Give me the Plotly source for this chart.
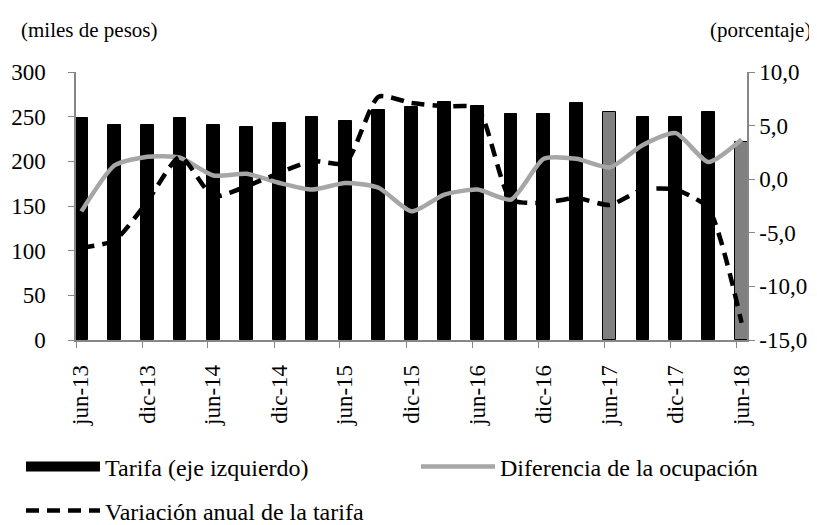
import plotly.graph_objects as go
import pandas as pd

# quarterly data, jun-13 .. jun-18
quarters = ["2013-06", "2013-09", "2013-12", "2014-03", "2014-06", "2014-09",
            "2014-12", "2015-03", "2015-06", "2015-09", "2015-12", "2016-03",
            "2016-06", "2016-09", "2016-12", "2017-03", "2017-06", "2017-09",
            "2017-12", "2018-03", "2018-06"]
tarifa = [248, 241, 241, 248, 241, 238, 243, 250, 245, 257, 261, 266,
          262, 253, 253, 265, 255, 250, 250, 255, 222]
ocupacion = [-3.0, 1.3, 2.1, 2.0, 0.35, 0.5, -0.35, -0.97, -0.35, -0.8, -3.0,
             -1.43, -0.97, -1.9, 1.9, 1.9, 1.1, 3.2, 4.3, 1.6, 3.7]
variacion = [-6.4, -5.7, -2.05, 2.1, -1.6, -0.65, 0.6, 1.7, 1.5, 7.7, 7.1,
             6.8, 6.6, -1.9, -2.2, -1.75, -2.4, -0.97, -0.97, -2.7, -13.4]
highlight = ["2017-06", "2018-06"]  # bars drawn in gray

x_tick_vals = ["2013-06-01", "2013-12-01", "2014-06-01", "2014-12-01", "2015-06-01",
               "2015-12-01", "2016-06-01", "2016-12-01", "2017-06-01", "2017-12-01",
               "2018-06-01"]
x_tick_text = ["jun-13", "dic-13", "jun-14", "dic-14", "jun-15", "dic-15",
               "jun-16", "dic-16", "jun-17", "dic-17", "jun-18"]
y1_ticks = [0, 50, 100, 150, 200, 250, 300]
y2_ticks = [-15, -10, -5, 0, 5, 10]
y2_text = ["-15,0", "-10,0", "-5,0", "0,0", "5,0", "10,0"]

FONT = "Liberation Serif, DejaVu Serif, serif"
AXIS_GRAY = "#868686"

# center each quarter-end month in its slot on the date axis
x_dates = pd.to_datetime(quarters) + pd.Timedelta(days=15)
bar_colors = ["#808080" if q in highlight else "black" for q in quarters]

fig = go.Figure()

fig.add_trace(go.Bar(
    x=x_dates, y=tarifa,
    marker=dict(color=bar_colors, line=dict(color="black", width=1)),
    width=35 * 86400000,
    showlegend=False,
))

# legend stand-in for the bars (wide black block)
fig.add_trace(go.Scatter(
    x=[None], y=[None], mode="lines",
    line=dict(color="black", width=14),
    name="Tarifa (eje izquierdo)", legend="legend",
))

fig.add_trace(go.Scatter(
    x=x_dates, y=ocupacion, yaxis="y2", mode="lines",
    line=dict(color="#a6a6a6", width=4.5, shape="spline", smoothing=0.6),
    name="Diferencia de la ocupación", legend="legend3",
))

fig.add_trace(go.Scatter(
    x=x_dates, y=variacion, yaxis="y2", mode="lines",
    line=dict(color="black", width=4.5, dash="13px,8px", shape="spline", smoothing=0.6),
    name="Variación anual de la tarifa", legend="legend2",
))

legend_common = dict(
    orientation="h", xref="container", yref="container",
    xanchor="left", yanchor="middle", itemwidth=74,
    font=dict(family=FONT, size=24), bgcolor="rgba(0,0,0,0)",
)

fig.update_layout(
    width=817, height=525,
    margin=dict(l=68, r=78, t=64, b=193, autoexpand=False),
    plot_bgcolor="white", paper_bgcolor="white",
    font=dict(family=FONT, size=23, color="black"),
    bargap=0,
    xaxis=dict(
        type="date",
        range=["2013-06-01", "2018-07-01"],
        tickvals=x_tick_vals, ticktext=x_tick_text,
        tickangle=-90, ticklabelshift=5, ticklabelstandoff=8,
        ticks="outside", ticklen=6, tickcolor=AXIS_GRAY,
        showline=True, linecolor=AXIS_GRAY, linewidth=1.5,
        showgrid=False, zeroline=False, automargin=False,
    ),
    yaxis=dict(
        range=[0, 300], tickvals=y1_ticks, ticklabelstandoff=18,
        ticks="outside", ticklen=6, tickcolor=AXIS_GRAY,
        showline=True, linecolor=AXIS_GRAY, linewidth=1.5,
        showgrid=False, zeroline=False, automargin=False,
    ),
    yaxis2=dict(
        range=[-15, 10], tickvals=y2_ticks, ticktext=y2_text,
        overlaying="y", side="right",
        ticks="outside", ticklen=6, tickcolor=AXIS_GRAY,
        showline=True, linecolor=AXIS_GRAY, linewidth=1.5,
        showgrid=False, zeroline=False, automargin=False,
    ),
    legend=dict(legend_common, x=13 / 817, y=1 - 459 / 525),
    legend3=dict(legend_common, x=408 / 817, y=1 - 459 / 525),
    legend2=dict(legend_common, x=13 / 817, y=1 - 503 / 525),
    annotations=[
        dict(text="(miles de pesos)", xref="paper", yref="paper",
             x=-57 / 671, y=1 + 42 / 268, xanchor="left", yanchor="middle",
             showarrow=False, font=dict(size=21)),
        dict(text="(porcentaje)", xref="paper", yref="paper",
             x=1 + 66 / 671, y=1 + 42 / 268, xanchor="right", yanchor="middle",
             showarrow=False, font=dict(size=21)),
    ],
)

fig.write_html("out.html")
